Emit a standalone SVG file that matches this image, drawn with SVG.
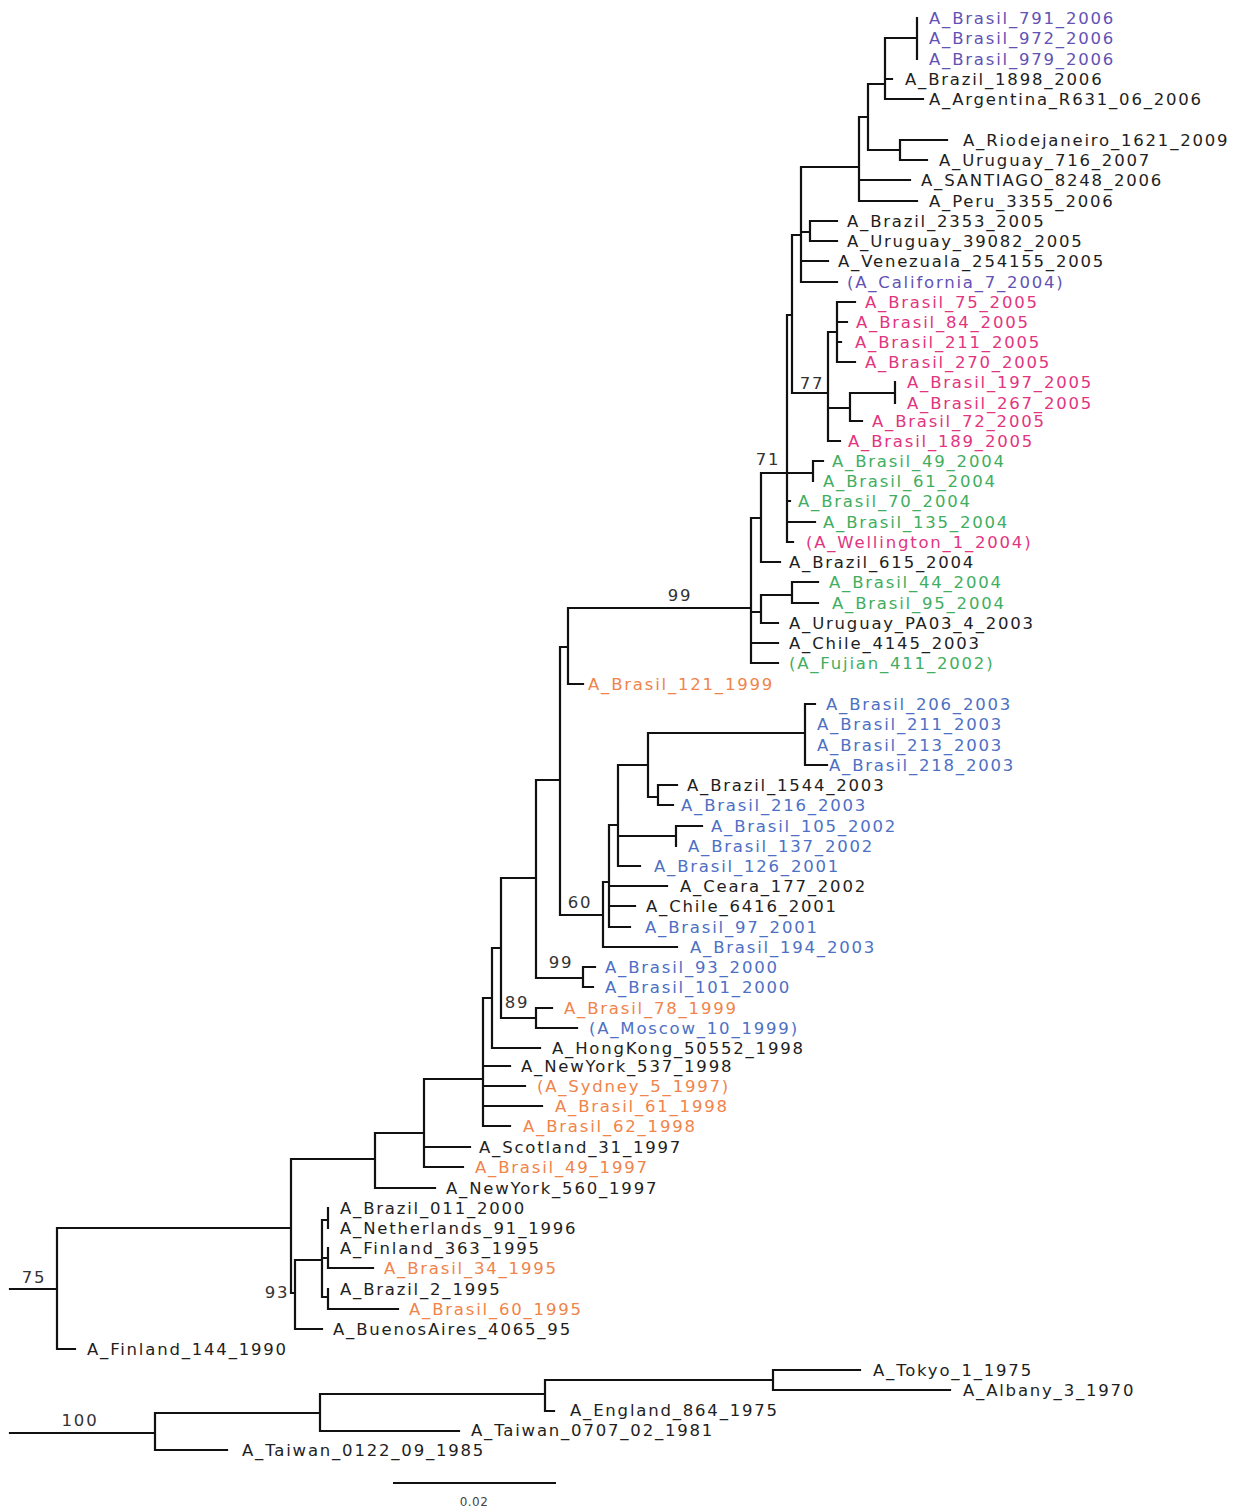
<svg xmlns="http://www.w3.org/2000/svg" width="1246" height="1508" viewBox="0 0 1246 1508">
<style>
text{font-family:"DejaVu Sans","Liberation Sans",sans-serif;font-size:16.5px;letter-spacing:1.8px}
.k{fill:#1e1e1e}.p{fill:#6252b4}.m{fill:#e2357f}.g{fill:#3fae5f}.o{fill:#f0844a}.b{fill:#4d70c4}
.lbl{fill:#333;text-anchor:middle}
.sc{font-size:12px;letter-spacing:0.5px;fill:#444;text-anchor:middle}
.e{fill:none;stroke:#111;stroke-width:2.2;stroke-linecap:square}
</style>
<rect width="1246" height="1508" fill="#fff"/>
<g id="connectors" class="e">
<path d="M10 1289H57M57 1228V1349M57 1228H291M57 1349H75M291 1159V1293M291 1159H375M375 1133V1188M375 1133H424M375 1188H435M424 1079V1167M424 1079H483M424 1147H470M424 1167H463M483 998V1126M483 998H492M483 1066H510M483 1086H525M483 1106H542M483 1126H510M492 948V1048M492 948H501M492 1048H540M501 878V1018M501 878H536M501 1018H536M536 1008V1028M536 1008H552M536 1028H577M536 780V978M536 780H560M536 978H583M583 967V987M583 967H595M583 987H593M560 647V915M560 647H568M560 915H603M568 608V684M568 608H751M568 684H583M751 518V663M751 518H761M751 612H761M751 643H778M751 663H778M761 595V623M761 595H792M761 623H778M792 582V603M792 582H818M792 603H818M761 473V562M761 473H813M761 562H780M787 315V542M787 315H792M787 501H790M787 522H815M787 542H793M813 461V481M813 461H823M792 235V393M792 235H801M792 393H828M801 167V282M801 167H859M801 232H810M801 261H828M801 282H837M810 221V241M810 221H837M810 241H837M859 117V201M859 117H868M859 180H910M859 201H917M868 84V150M868 84H885M868 150H900M885 38V99M885 38H917M885 79H892M885 99H923M917 18V59M900 140V160M900 140H947M900 160H927M828 332V441M828 332H837M828 408H850M828 441H840M837 302V362M837 302H855M837 322H847M837 342H841M837 362H855M850 393V421M850 393H895M850 421H862M895 382V403M603 882V947M603 882H609M603 947H677M609 825V927M609 825H618M609 886H667M609 906H635M609 927H630M618 765V866M618 765H648M618 836H676M618 866H640M648 733V797M648 733H805M648 797H658M805 704V765M805 704H815M805 765H827M658 785V805M658 785H677M658 805H673M676 826V846M676 826H702M291 1293H295M295 1260V1329M295 1260H322M295 1329H322M322 1220V1297M322 1220H328M322 1258H328M322 1297H328M328 1208V1228M328 1248V1268M328 1268H373M328 1289V1309M328 1309H398"/>
<path d="M10 1433H155M155 1413V1450M155 1413H320M155 1450H227M320 1394V1431M320 1394H545M320 1431H459M545 1380V1411M545 1380H773M545 1411H554M773 1370V1390M773 1370H860M773 1390H950"/>
</g>
<g id="scale-bar">
<line x1="393" y1="1483" x2="556" y2="1483" stroke="#111" stroke-width="2"/>
<text class="sc" x="474" y="1506">0.02</text>
</g>
<g id="support-labels">
<text class="lbl" x="680" y="601">99</text>
<text class="lbl" x="812" y="389">77</text>
<text class="lbl" x="768" y="465">71</text>
<text class="lbl" x="580" y="908">60</text>
<text class="lbl" x="561" y="968">99</text>
<text class="lbl" x="517" y="1008">89</text>
<text class="lbl" x="277" y="1298">93</text>
<text class="lbl" x="34" y="1283">75</text>
<text class="lbl" x="80" y="1426">100</text>
</g>
<g id="leaves">
<g id="n1"><text class="p" x="929" y="24">A_Brasil_791_2006</text></g>
<g id="n2"><text class="p" x="929" y="44">A_Brasil_972_2006</text></g>
<g id="n3"><text class="p" x="929" y="65">A_Brasil_979_2006</text></g>
<g id="n4"><text class="k" x="905" y="85">A_Brazil_1898_2006</text></g>
<g id="n5"><text class="k" x="929" y="105">A_Argentina_R631_06_2006</text></g>
<g id="n6"><text class="k" x="963" y="146">A_Riodejaneiro_1621_2009</text></g>
<g id="n7"><text class="k" x="939" y="166">A_Uruguay_716_2007</text></g>
<g id="n8"><text class="k" x="921" y="186">A_SANTIAGO_8248_2006</text></g>
<g id="n9"><text class="k" x="929" y="207">A_Peru_3355_2006</text></g>
<g id="n10"><text class="k" x="847" y="227">A_Brazil_2353_2005</text></g>
<g id="n11"><text class="k" x="847" y="247">A_Uruguay_39082_2005</text></g>
<g id="n12"><text class="k" x="838" y="267">A_Venezuala_254155_2005</text></g>
<g id="n13"><text class="p" x="847" y="288">(A_California_7_2004)</text></g>
<g id="n14"><text class="m" x="865" y="308">A_Brasil_75_2005</text></g>
<g id="n15"><text class="m" x="856" y="328">A_Brasil_84_2005</text></g>
<g id="n16"><text class="m" x="855" y="348">A_Brasil_211_2005</text></g>
<g id="n17"><text class="m" x="865" y="368">A_Brasil_270_2005</text></g>
<g id="n18"><text class="m" x="907" y="388">A_Brasil_197_2005</text></g>
<g id="n19"><text class="m" x="907" y="409">A_Brasil_267_2005</text></g>
<g id="n20"><text class="m" x="872" y="427">A_Brasil_72_2005</text></g>
<g id="n21"><text class="m" x="848" y="447">A_Brasil_189_2005</text></g>
<g id="n22"><text class="g" x="832" y="467">A_Brasil_49_2004</text></g>
<g id="n23"><text class="g" x="823" y="487">A_Brasil_61_2004</text></g>
<g id="n24"><text class="g" x="798" y="507">A_Brasil_70_2004</text></g>
<g id="n25"><text class="g" x="823" y="528">A_Brasil_135_2004</text></g>
<g id="n26"><text class="m" x="806" y="548">(A_Wellington_1_2004)</text></g>
<g id="n27"><text class="k" x="789" y="568">A_Brazil_615_2004</text></g>
<g id="n28"><text class="g" x="829" y="588">A_Brasil_44_2004</text></g>
<g id="n29"><text class="g" x="832" y="609">A_Brasil_95_2004</text></g>
<g id="n30"><text class="k" x="789" y="629">A_Uruguay_PA03_4_2003</text></g>
<g id="n31"><text class="k" x="789" y="649">A_Chile_4145_2003</text></g>
<g id="n32"><text class="g" x="789" y="669">(A_Fujian_411_2002)</text></g>
<g id="n33"><text class="o" x="588" y="690">A_Brasil_121_1999</text></g>
<g id="n34"><text class="b" x="826" y="710">A_Brasil_206_2003</text></g>
<g id="n35"><text class="b" x="817" y="730">A_Brasil_211_2003</text></g>
<g id="n36"><text class="b" x="817" y="751">A_Brasil_213_2003</text></g>
<g id="n37"><text class="b" x="829" y="771">A_Brasil_218_2003</text></g>
<g id="n38"><text class="k" x="687" y="791">A_Brazil_1544_2003</text></g>
<g id="n39"><text class="b" x="681" y="811">A_Brasil_216_2003</text></g>
<g id="n40"><text class="b" x="711" y="832">A_Brasil_105_2002</text></g>
<g id="n41"><text class="b" x="688" y="852">A_Brasil_137_2002</text></g>
<g id="n42"><text class="b" x="654" y="872">A_Brasil_126_2001</text></g>
<g id="n43"><text class="k" x="680" y="892">A_Ceara_177_2002</text></g>
<g id="n44"><text class="k" x="646" y="912">A_Chile_6416_2001</text></g>
<g id="n45"><text class="b" x="645" y="933">A_Brasil_97_2001</text></g>
<g id="n46"><text class="b" x="690" y="953">A_Brasil_194_2003</text></g>
<g id="n47"><text class="b" x="605" y="973">A_Brasil_93_2000</text></g>
<g id="n48"><text class="b" x="605" y="993">A_Brasil_101_2000</text></g>
<g id="n49"><text class="o" x="564" y="1014">A_Brasil_78_1999</text></g>
<g id="n50"><text class="b" x="589" y="1034">(A_Moscow_10_1999)</text></g>
<g id="n51"><text class="k" x="552" y="1054">A_HongKong_50552_1998</text></g>
<g id="n52"><text class="k" x="521" y="1072">A_NewYork_537_1998</text></g>
<g id="n53"><text class="o" x="537" y="1092">(A_Sydney_5_1997)</text></g>
<g id="n54"><text class="o" x="555" y="1112">A_Brasil_61_1998</text></g>
<g id="n55"><text class="o" x="523" y="1132">A_Brasil_62_1998</text></g>
<g id="n56"><text class="k" x="479" y="1153">A_Scotland_31_1997</text></g>
<g id="n57"><text class="o" x="475" y="1173">A_Brasil_49_1997</text></g>
<g id="n58"><text class="k" x="446" y="1194">A_NewYork_560_1997</text></g>
<g id="n59"><text class="k" x="340" y="1214">A_Brazil_011_2000</text></g>
<g id="n60"><text class="k" x="340" y="1234">A_Netherlands_91_1996</text></g>
<g id="n61"><text class="k" x="340" y="1254">A_Finland_363_1995</text></g>
<g id="n62"><text class="o" x="384" y="1274">A_Brasil_34_1995</text></g>
<g id="n63"><text class="k" x="340" y="1295">A_Brazil_2_1995</text></g>
<g id="n64"><text class="o" x="409" y="1315">A_Brasil_60_1995</text></g>
<g id="n65"><text class="k" x="333" y="1335">A_BuenosAires_4065_95</text></g>
<g id="n66"><text class="k" x="87" y="1355">A_Finland_144_1990</text></g>
<g id="n67"><text class="k" x="873" y="1376">A_Tokyo_1_1975</text></g>
<g id="n68"><text class="k" x="963" y="1396">A_Albany_3_1970</text></g>
<g id="n69"><text class="k" x="570" y="1416">A_England_864_1975</text></g>
<g id="n70"><text class="k" x="471" y="1436">A_Taiwan_0707_02_1981</text></g>
<g id="n71"><text class="k" x="242" y="1456">A_Taiwan_0122_09_1985</text></g>
</g>
</svg>
